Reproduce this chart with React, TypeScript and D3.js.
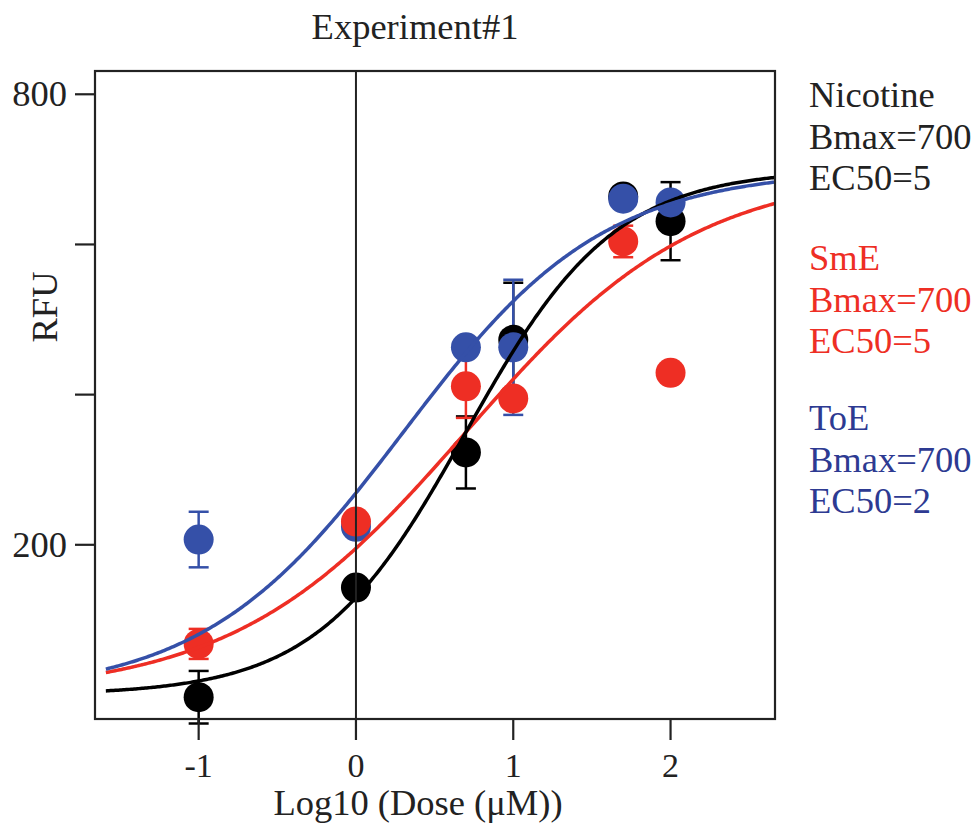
import React, { useEffect } from "react";
import * as d3 from "d3";

const doses = [-1, 0, 0.699, 1, 1.699, 2];
const nicotine = [-3, 143, 323, 473, 664, 631];
const nicotineErr = [35, 0, 48, 76, 0, 52];
const smE = [68, 231, 411, 395, 604, 429];
const smEErr = [20, 0, 42, 0, 21, 0];
const toE = [207, 224, 463, 463, 661, 656];
const toEErr = [37, 0, 0, 90, 0, 0];

const seriesNames = ["Nicotine", "SmE", "ToE"];
const bmax = [700, 700, 700];
const ec50 = [5, 5, 2];
const hill = [0.92, 0.59, 0.68];

const xTicks = [-1, 0, 1, 2];
const yTicks = [200, 400, 600, 800];
const yTickLabels = ["200", "", "", "800"];

const W = 978, H = 829;
const M = { left: 95, right: 775, top: 71, bottom: 719 };
const FONT = "'Liberation Serif', 'Times New Roman', serif";
const FS = 36.5;
const TICK_FS = 34;

const markerColors = ["#000000", "#ee2e24", "#3550a8"];
const textColors = ["#222222", "#ee2e24", "#2d3a92"];

export default function App() {
  useEffect(() => {
    document.body.style.margin = "0";
  }, []);

  const x = d3.scaleLinear().domain([-1.659, 2.664]).range([M.left, M.right]);
  const y = d3.scaleLinear().domain([-32, 831]).range([M.bottom, M.top]);

  const values = [nicotine, smE, toE];
  const errs = [nicotineErr, smEErr, toEErr];

  const curve = (i: number) => {
    const logEC = Math.log10(ec50[i]);
    const pts = d3.range(-1.59, 2.664, 0.01).map((xx) => [
      xx,
      bmax[i] / (1 + Math.pow(10, (logEC - xx) * hill[i])),
    ]);
    return d3
      .line<number[]>()
      .x((d) => x(d[0]))
      .y((d) => y(d[1]))(pts);
  };

  const drawOrder = [0, 2, 1];
  const curveOrder = [1, 0, 2];

  const legendBase = [107, 270, 430];
  const legendStep = 41.5;

  return (
    <svg width={W} height={H} style={{ position: "absolute", left: 0, top: 0, background: "#fff" }}>
      <rect x={0} y={0} width={W} height={H} fill="#fff" />
      <text x={415} y={39} fontFamily={FONT} fontSize={FS} textAnchor="middle" fill="#222">
        Experiment#1
      </text>

      {drawOrder.map((si) =>
        doses.map((dv, j) => {
          const e = errs[si][j];
          if (!e) return null;
          const v = values[si][j];
          const cx = x(dv);
          return (
            <g key={`e${si}-${j}`} stroke={markerColors[si]} strokeWidth={2.5}>
              <line x1={cx} x2={cx} y1={y(v - e)} y2={y(v + e)} />
              <line x1={cx - 10} x2={cx + 10} y1={y(v + e)} y2={y(v + e)} />
              <line x1={cx - 10} x2={cx + 10} y1={y(v - e)} y2={y(v - e)} />
            </g>
          );
        })
      )}

      {drawOrder.map((si) =>
        doses.map((dv, j) => (
          <circle key={`p${si}-${j}`} cx={x(dv)} cy={y(values[si][j])} r={15} fill={markerColors[si]} />
        ))
      )}

      {curveOrder.map((si) => (
        <path key={`c${si}`} d={curve(si) || ""} fill="none" stroke={markerColors[si]} strokeWidth={3.5} />
      ))}

      <line x1={x(0)} x2={x(0)} y1={M.top} y2={M.bottom} stroke="#222" strokeWidth={2} />

      <rect
        x={M.left}
        y={M.top}
        width={M.right - M.left}
        height={M.bottom - M.top}
        fill="none"
        stroke="#222"
        strokeWidth={2.2}
      />

      {yTicks.map((t, i) => (
        <g key={`yt${t}`}>
          <line x1={M.left - 20} x2={M.left} y1={y(t)} y2={y(t)} stroke="#222" strokeWidth={2.2} />
          {yTickLabels[i] && (
            <text
              x={M.left - 28}
              y={y(t) + 12}
              fontFamily={FONT}
              fontSize={FS}
              textAnchor="end"
              fill="#222"
            >
              {yTickLabels[i]}
            </text>
          )}
        </g>
      ))}

      {xTicks.map((t) => (
        <g key={`xt${t}`}>
          <line x1={x(t)} x2={x(t)} y1={M.bottom} y2={M.bottom + 21} stroke="#222" strokeWidth={2.2} />
          <text x={x(t)} y={777} fontFamily={FONT} fontSize={TICK_FS} textAnchor="middle" fill="#222">
            {t === -1 ? "-1" : String(t)}
          </text>
        </g>
      ))}

      <text x={418} y={815} fontFamily={FONT} fontSize={FS} textAnchor="middle" fill="#222">
        Log10 (Dose (μM))
      </text>
      <text
        transform={`translate(57, 307) rotate(-90)`}
        fontFamily={FONT}
        fontSize={FS}
        textAnchor="middle"
        fill="#222"
      >
        RFU
      </text>

      {seriesNames.map((n, i) => (
        <g key={`lg${i}`} fontFamily={FONT} fontSize={FS} fill={textColors[i]}>
          <text x={809} y={legendBase[i]}>{n}</text>
          <text x={809} y={legendBase[i] + legendStep}>{`Bmax=${bmax[i]}`}</text>
          <text x={809} y={legendBase[i] + 2 * legendStep}>{`EC50=${ec50[i]}`}</text>
        </g>
      ))}
    </svg>
  );
}
